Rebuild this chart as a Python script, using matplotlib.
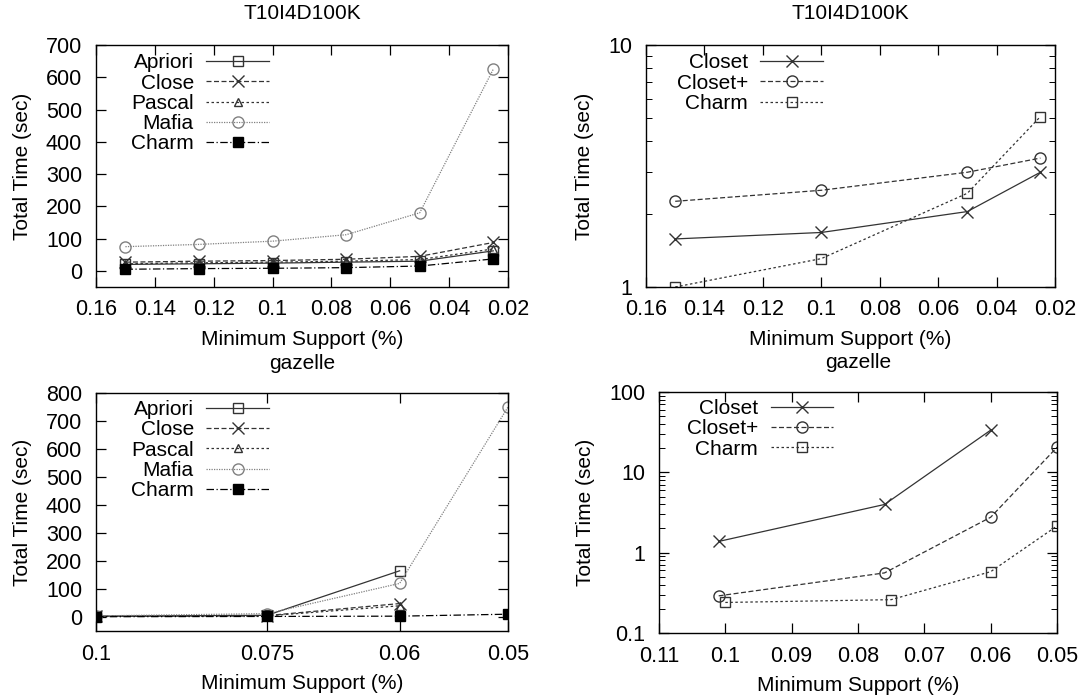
import numpy as np
import matplotlib
matplotlib.use("Agg")
import matplotlib.pyplot as plt
from matplotlib.ticker import FixedLocator, NullLocator, LogLocator, FuncFormatter

plt.rcParams['font.family'] = ['Liberation Sans', 'DejaVu Sans']
plt.rcParams['font.size'] = 15

# T10I4D100K, all-frequent miners (linear time)
sup_t10 = [0.15, 0.125, 0.1, 0.075, 0.05, 0.025]
t10_apriori = [20, 22, 24, 27, 30, 62]
t10_close = [27, 30, 32, 36, 45, 88]
t10_pascal = [22, 25, 27, 30, 35, 68]
t10_mafia = [75, 82, 92, 112, 180, 625]
t10_charm = [5, 7, 8, 10, 15, 37]

# T10I4D100K, closed miners (log time)
sup_t10c = [0.15, 0.1, 0.05, 0.025]
t10c_closet = [1.58, 1.68, 2.05, 2.98]
t10c_closetp = [2.26, 2.51, 2.98, 3.41]
t10c_charm = [1.0, 1.31, 2.44, 5.06]

# gazelle, all-frequent miners
sup_gz = [0.1, 0.075, 0.06, 0.05]
gz_apriori = [3, 6, 165]
gz_close = [2, 5, 48]
gz_pascal = [2, 4, 40]
gz_mafia = [4, 12, 120, 750]
gz_charm = [1, 2, 3, 10]

# gazelle, closed miners
sup_gzc_closet = [0.101, 0.076, 0.06]
gzc_closet = [1.38, 3.98, 33.5]
sup_gzc_closetp = [0.101, 0.076, 0.06, 0.05]
gzc_closetp = [0.29, 0.56, 2.76, 20.5]
sup_gzc_charm = [0.1, 0.075, 0.06, 0.05]
gzc_charm = [0.24, 0.26, 0.58, 2.15]

W, H = 1081, 698
fig = plt.figure(figsize=(W / 100, H / 100), dpi=100)


def box(l, t, r, b):
    return [l / W, 1 - b / H, (r - l) / W, (b - t) / H]


def style(ax, title, title_pad):
    ax.tick_params(which='both', direction='in', top=True, right=True, labelsize=15.5)
    ax.tick_params(axis='x', which='both', pad=9)
    ax.tick_params(axis='y', which='both', pad=10)
    ax.tick_params(which='major', length=7, width=0.9)
    ax.tick_params(which='minor', length=4, width=0.7)
    for s in ax.spines.values():
        s.set_linewidth(1.0)
    ax.set_title(title, fontsize=15, pad=title_pad)
    ax.set_xlabel('Minimum Support (%)', fontsize=15, labelpad=7)
    ax.set_ylabel('Total Time (sec)', fontsize=15, labelpad=10)


def num(v, pos):
    return ('%g' % v)


lw = 0.9
ms = 7
grey = '#333333'
light = '#808080'


def all_miners(ax, xs, ap, cl, pa, ma, ch):
    ax.plot(xs[:len(ap)], ap, color=grey, lw=lw, ls='-', marker='s', mfc='none', ms=ms, mec=grey, label='Apriori')
    ax.plot(xs[:len(cl)], cl, color=grey, lw=lw, ls=(0, (4, 2)), marker='x', ms=ms + 1, mec=grey, label='Close')
    ax.plot(xs[:len(pa)], pa, color=grey, lw=lw, ls=(0, (2, 2)), marker='^', mfc='none', ms=ms - 1, mec=grey, label='Pascal')
    ax.plot(xs[:len(ma)], ma, color=light, lw=lw, ls=(0, (1, 1)), marker='o', mfc='none', ms=ms + 1, mec=light, label='Mafia')
    ax.plot(xs[:len(ch)], ch, color='black', lw=lw, ls=(0, (6, 2, 1, 2)), marker='s', mfc='black', ms=ms, mec='black', label='Charm')


def closed_miners(ax, x1, c1, x2, c2, x3, c3):
    ax.plot(x1, c1, color=grey, lw=lw, ls='-', marker='x', ms=ms + 1, mec=grey, label='Closet')
    ax.plot(x2, c2, color=grey, lw=lw, ls=(0, (4, 2)), marker='o', mfc='none', ms=ms + 1, mec=grey, label='Closet+')
    ax.plot(x3, c3, color=grey, lw=lw, ls=(0, (2, 2)), marker='s', mfc='none', ms=ms, mec=grey, label='Charm')


def legend(ax, anchor):
    ax.legend(loc='upper left', bbox_to_anchor=anchor, frameon=False, markerfirst=False,
              fontsize=15, handlelength=3.0, handletextpad=0.6, labelspacing=0.06,
              borderpad=0, borderaxespad=0)


# top left
ax1 = fig.add_axes(box(96, 45, 508, 287))
all_miners(ax1, sup_t10, t10_apriori, t10_close, t10_pascal, t10_mafia, t10_charm)
ax1.set_xlim(0.16, 0.02)
ax1.set_ylim(-50, 700)
ax1.set_xticks(np.arange(0.16, 0.019, -0.02))
ax1.xaxis.set_major_formatter(FuncFormatter(lambda v, p: '%g' % round(v, 2)))
ax1.set_yticks(np.arange(0, 701, 100))
style(ax1, 'T10I4D100K', 19)
legend(ax1, (0.085, 0.965))

# top right
ax2 = fig.add_axes(box(646, 45, 1055, 287))
closed_miners(ax2, sup_t10c, t10c_closet, sup_t10c, t10c_closetp, sup_t10c, t10c_charm)
ax2.set_yscale('log')
ax2.set_xlim(0.16, 0.02)
ax2.set_ylim(1, 10)
ax2.set_xticks(np.arange(0.16, 0.019, -0.02))
ax2.xaxis.set_major_formatter(FuncFormatter(lambda v, p: '%g' % round(v, 2)))
ax2.yaxis.set_major_locator(FixedLocator([1, 10]))
ax2.yaxis.set_minor_locator(LogLocator(subs=np.arange(2, 10)))
ax2.yaxis.set_major_formatter(FuncFormatter(num))
ax2.yaxis.set_minor_formatter(FuncFormatter(lambda v, p: ''))
style(ax2, 'T10I4D100K', 19)
legend(ax2, (0.075, 0.965))

# bottom left
ax3 = fig.add_axes(box(96, 393, 508, 631))
all_miners(ax3, sup_gz, gz_apriori, gz_close, gz_pascal, gz_mafia, gz_charm)
ax3.set_xscale('log')
ax3.set_xlim(0.1, 0.05)
ax3.set_ylim(-50, 800)
ax3.xaxis.set_major_locator(FixedLocator(sup_gz))
ax3.xaxis.set_minor_locator(NullLocator())
ax3.xaxis.set_major_formatter(FuncFormatter(num))
ax3.set_yticks(np.arange(0, 801, 100))
style(ax3, 'gazelle', 17)
legend(ax3, (0.085, 0.97))

# bottom right
ax4 = fig.add_axes(box(659, 392, 1057, 633))
closed_miners(ax4, sup_gzc_closet, gzc_closet, sup_gzc_closetp, gzc_closetp, sup_gzc_charm, gzc_charm)
ax4.set_yscale('log')
ax4.set_xlim(0.11, 0.05)
ax4.set_ylim(0.1, 100)
ax4.set_xticks(np.arange(0.11, 0.049, -0.01))
ax4.xaxis.set_major_formatter(FuncFormatter(lambda v, p: '%g' % round(v, 2)))
ax4.yaxis.set_major_locator(FixedLocator([0.1, 1, 10, 100]))
ax4.yaxis.set_minor_locator(LogLocator(subs=np.arange(2, 10)))
ax4.yaxis.set_major_formatter(FuncFormatter(num))
ax4.yaxis.set_minor_formatter(FuncFormatter(lambda v, p: ''))
style(ax4, 'gazelle', 17)
legend(ax4, (0.07, 0.97))

fig.savefig('out.png', dpi=100)
